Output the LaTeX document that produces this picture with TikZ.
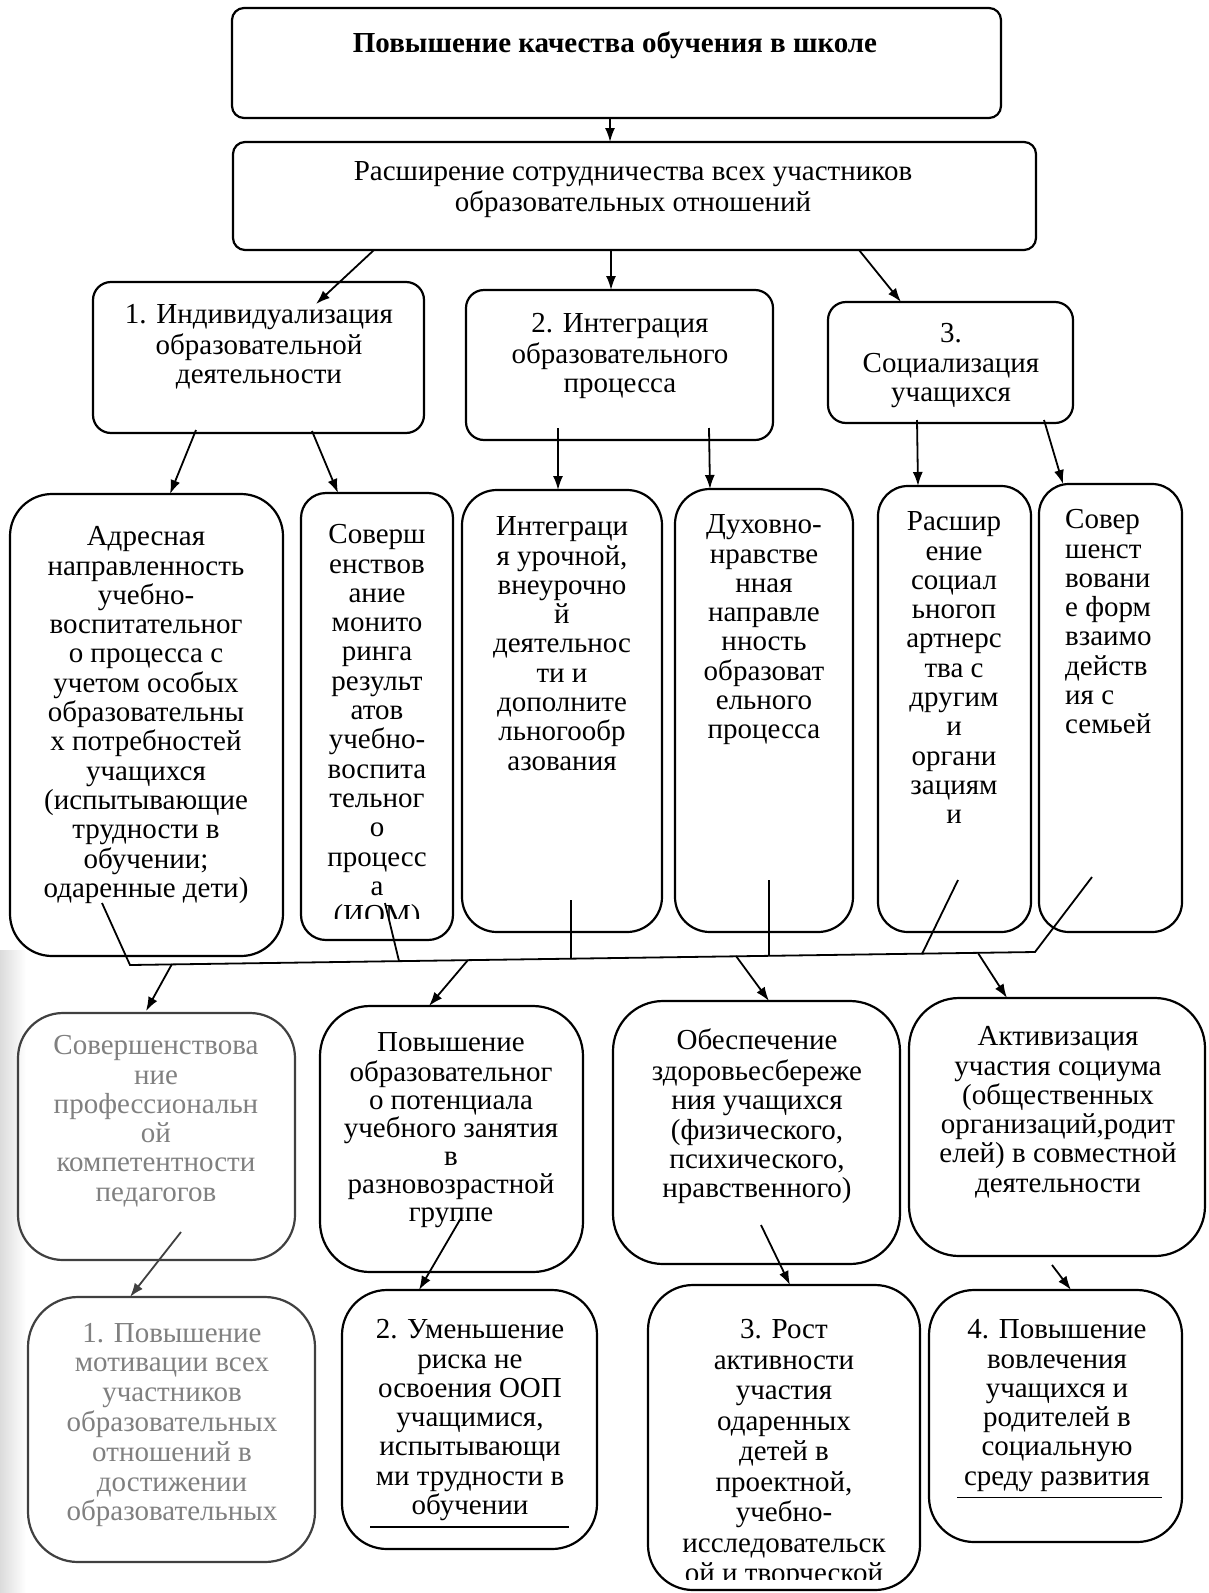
\documentclass[tikz,border=0pt]{standalone}
\usepackage{fontspec}
\setmainfont{Liberation Serif}
\usetikzlibrary{arrows.meta,calc}
\begin{document}
\begin{tikzpicture}[x=1pt,y=-1pt,
  box/.style={draw, line width=2.2pt, inner sep=0pt, outer sep=0pt},
  txt/.style={font=\fontsize{29}{29.3}\selectfont, align=center, inner sep=0pt, anchor=north},
  fade/.style={text=black!50},
  arr/.style={line width=1.8pt, -{Latex[length=14pt,width=10pt]}},
  ln/.style={line width=1.8pt}]
\clip (0,0) rectangle (1208,1593);
\fill[white] (0,0) rectangle (1208,1593);
\shade[left color=black!14, right color=white] (0,950) rectangle (26,1593);
% ---- boxes
\node[box, rounded corners=12pt, minimum width=769pt, minimum height=110pt] (top) at (616.5,63) {};
\node[box, rounded corners=12pt, minimum width=803pt, minimum height=108pt] (sec) at (634.5,196) {};
\node[box, rounded corners=18pt, minimum width=331pt, minimum height=151pt] (b1) at (258.5,357.5) {};
\node[box, rounded corners=18pt, minimum width=307pt, minimum height=150pt] (b2) at (619.5,365) {};
\node[box, rounded corners=18pt, minimum width=245pt, minimum height=121pt] (b3) at (950.5,362.5) {};
\node[box, rounded corners=42pt, minimum width=273pt, minimum height=462pt] (A) at (146.5,725) {};
\node[box, rounded corners=25pt, minimum width=152pt, minimum height=447pt] (B) at (377,716.5) {};
\node[box, rounded corners=35pt, minimum width=200pt, minimum height=442pt] (C) at (562,711) {};
\node[box, rounded corners=35pt, minimum width=178pt, minimum height=443pt] (D) at (764,710.5) {};
\node[box, rounded corners=30pt, minimum width=153pt, minimum height=446pt] (E) at (954.5,709) {};
\node[box, rounded corners=30pt, minimum width=143pt, minimum height=448pt] (F) at (1110.5,708) {};
\node[box, draw=black!75, rounded corners=45pt, minimum width=277pt, minimum height=247pt] (G) at (156.5,1136.5) {};
\node[box, rounded corners=50pt, minimum width=263pt, minimum height=266pt] (H) at (451.5,1139) {};
\node[box, rounded corners=50pt, minimum width=287pt, minimum height=263pt] (I) at (756.5,1132.5) {};
\node[box, rounded corners=50pt, minimum width=296pt, minimum height=258pt] (J) at (1057,1127) {};
\node[box, draw=black!75, rounded corners=50pt, minimum width=287pt, minimum height=265pt] (K) at (171.5,1429.5) {};
\node[box, rounded corners=45pt, minimum width=255pt, minimum height=259pt] (L) at (469.5,1419.5) {};
\node[box, rounded corners=45pt, minimum width=272pt, minimum height=305pt] (M) at (784,1437.5) {};
\node[box, rounded corners=45pt, minimum width=253pt, minimum height=252pt] (N) at (1055.5,1416) {};
% ---- texts
\node[txt] (topt) at (615,32) {\strut\bfseries Повышение качества обучения в школе};
\node[txt] (sect) at (633,160) {\strut Расширение сотрудничества всех участников\\образовательных отношений};
\node[txt] (b1t) at (259,303) {\strut 1. Индивидуализация\\образовательной\\деятельности};
\node[txt] (b2t) at (620,312) {\strut 2. Интеграция\\образовательного\\процесса};
\node[txt] (b3t) at (951,322) {\strut 3.\\Социализация\\учащихся};
\node[txt] (At) at (146,525) {\strut Адресная\\направленность\\учебно-\\воспитательног\\о процесса с\\учетом особых\\образовательны\\х потребностей\\учащихся\\(испытывающие\\трудности в\\обучении;\\одаренные дети)};
\begin{scope}
\clip (300,490) rectangle (455,918);
\node[txt] (Bt) at (377,523) {\strut Соверш\\енствов\\ание\\монито\\ринга\\результ\\атов\\учебно-\\воспита\\тельног\\о\\процесс\\а\\(ИОМ)};
\end{scope}
\node[txt] (Ct) at (562,515) {\strut Интеграци\\я урочной,\\внеурочно\\й\\деятельнос\\ти и\\дополните\\льногообр\\азования};
\node[txt] (Dt) at (764,513) {\strut Духовно-\\нравстве\\нная\\направле\\нность\\образоват\\ельного\\процесса};
\node[txt] (Et) at (954,510) {\strut Расшир\\ение\\социал\\ьногоп\\артнерс\\тва с\\другим\\и\\органи\\зациям\\и};
\node[txt, align=left, anchor=north west] (Ft) at (1065,508) {\strut Совер\\шенст\\вовани\\е форм\\взаимо\\действ\\ия с\\семьей};
\node[txt, fade] (Gt) at (156,1034) {\strut Совершенствова\\ние\\профессиональн\\ой\\компетентности\\педагогов};
\node[txt, font=\fontsize{29}{28}\selectfont] (Ht) at (451,1032) {\strut Повышение\\образовательног\\о потенциала\\учебного занятия\\в\\разновозрастной\\группе};
\node[txt] (It) at (757,1029) {\strut Обеспечение\\здоровьесбереже\\ния учащихся\\(физического,\\психического,\\нравственного)};
\node[txt] (Jt) at (1058,1025) {\strut Активизация\\участия социума\\(общественных\\организаций,родит\\елей) в совместной\\деятельности};
\node[txt, fade, font=\fontsize{29}{29.8}\selectfont] (Kt) at (172,1321) {\strut 1. Повышение\\мотивации всех\\участников\\образовательных\\отношений в\\достижении\\образовательных};
\node[txt] (Lt) at (470,1318) {\strut 2. Уменьшение\\риска не\\освоения ООП\\учащимися,\\испытывающи\\ми трудности в\\обучении};
\begin{scope}
\clip (640,1280) rectangle (925,1579);
\node[txt, font=\fontsize{29}{30.5}\selectfont] (Mt) at (784,1317) {\strut 3. Рост\\активности\\участия\\одаренных\\детей в\\проектной,\\учебно-\\исследовательск\\ой и творческой};
\end{scope}
\node[txt] (Nt) at (1057,1318) {\strut 4. Повышение\\вовлечения\\учащихся и\\родителей в\\социальную\\среду развития};
% underlines
\draw[line width=1.4pt] (370,0 |- Lt.south) ++(0,6) coordinate (lu1) -- (569,0 |- lu1);
\draw[line width=1.4pt] (957,0 |- Nt.south) ++(0,6) coordinate (nu1) -- (1162,0 |- nu1);
% ---- arrows level 1-3
\draw[arr] (610,0 |- top.south) -- (610,0 |- sec.north);
\draw[arr] (374,0 |- sec.south) -- ($(316,0 |- b1.north)+(0,22)$);
\draw[arr] (611,0 |- sec.south) -- (611,0 |- b2.north);
\draw[arr] (859,0 |- sec.south) -- (901,0 |- b3.north);
\draw[arr] ($(196,0 |- b1.south)+(0,-3)$) -- (170,0 |- A.north);
\draw[arr] ($(312,0 |- b1.south)+(0,-2)$) -- (338,0 |- B.north);
\draw[arr] ($(558,0 |- b2.south)+(0,-12)$) -- (558,0 |- C.north);
\draw[arr] ($(709,0 |- b2.south)+(0,-12)$) -- (710,0 |- D.north);
\draw[arr] ($(917,0 |- b3.south)+(0,-3)$) -- (918,0 |- E.north);
\draw[arr] ($(1044,0 |- b3.south)+(0,-3)$) -- (1063,0 |- F.north);
% ---- merge line
\coordinate (mA) at (102,903);
\coordinate (mAl) at (130,965);
\coordinate (mFr) at (1035,952);
\coordinate (mF) at (1092,877);
\draw[ln] (mA) -- (mAl) -- (mFr) -- (mF);
\coordinate (mB) at (385,903);
\coordinate (mBl) at (399,961);
\draw[ln] (mB) -- (mBl);
\coordinate (mC) at (571,900);
\coordinate (mCl) at (571,959);
\draw[ln] (mC) -- (mCl);
\coordinate (mD) at (769,880);
\coordinate (mDl) at (769,956);
\draw[ln] (mD) -- (mDl);
\coordinate (mE) at (958,880);
\coordinate (mEl) at (922,954);
\draw[ln] (mE) -- (mEl);
% ---- arrows to level 5
\coordinate (sG) at (172,964);
\coordinate (sH) at (468,960);
\coordinate (sI) at (736,956);
\coordinate (sJ) at (978,953);
\draw[arr] (sG) -- ($(146,0 |- G.north)+(0,-2)$);
\draw[arr] (sH) -- (429,0 |- H.north);
\draw[arr] (sI) -- (769,0 |- I.north);
\draw[arr] (sJ) -- (1007,0 |- J.north);
% ---- arrows to level 6
\draw[arr, draw=black!75] ($(181,0 |- G.south)+(0,-28)$) -- (130,0 |- K.north);
\draw[arr] ($(461,0 |- H.south)+(0,-54)$) -- (419,0 |- L.north);
\draw[arr] ($(761,0 |- I.south)+(0,-39)$) -- (790,0 |- M.north);
\draw[arr] ($(1052,0 |- J.south)+(0,9)$) -- (1071,0 |- N.north);
\end{tikzpicture}
\end{document}
